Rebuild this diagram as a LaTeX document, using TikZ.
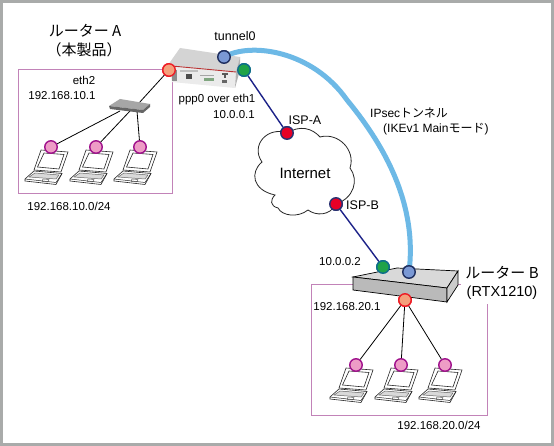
\documentclass[tikz,border=0pt]{standalone}
\usepackage{fontspec}
\setmainfont{Liberation Sans}
\newfontfamily\cjk{Noto Sans CJK JP}
\definecolor{FrameGray}{HTML}{A9ABAA}
\definecolor{NetPink}{HTML}{C283B8}
\definecolor{TunnelBlue}{HTML}{6DB9E6}
\definecolor{WanNavy}{HTML}{1C2288}
\definecolor{LanRed}{HTML}{EE1C25}
\definecolor{LanFill}{HTML}{F4A07C}
\definecolor{PcEdge}{HTML}{A0128C}
\definecolor{PcFill}{HTML}{EE9CC6}
\definecolor{TunEdge}{HTML}{1F2F5F}
\definecolor{TunFill}{HTML}{7A98D4}
\definecolor{WanEdge}{HTML}{0E6E8A}
\definecolor{WanFill}{HTML}{1FA348}
\definecolor{IspEdge}{HTML}{2A3272}
\definecolor{IspFill}{HTML}{E60026}
\usetikzlibrary{arrows.meta, positioning}

\begin{document}
\begin{tikzpicture}[
        x=1pt, y=-1pt,
        port/.style={circle, draw, line width=1.4pt, minimum size=12.5pt, inner sep=0pt},
        lanport/.style={port, draw=LanRed, fill=LanFill},
        pcport/.style={port, draw=PcEdge, fill=PcFill},
        tunport/.style={port, draw=TunEdge, fill=TunFill},
        wanport/.style={port, draw=WanEdge, fill=WanFill},
        ispport/.style={port, draw=IspEdge, fill=IspFill},
        lbl/.style={font=\fontsize{11.5}{13}\selectfont, inner sep=0pt},
        widelbl/.style={font=\fontsize{12.5}{14}\selectfont, inner sep=0pt},
        biglbl/.style={font=\fontsize{15}{17}\selectfont\cjk, inner sep=0pt},
        netbox/.style={draw=NetPink, line width=1pt},
        lanline/.style={draw=black, line width=0.8pt},
        wanline/.style={draw=WanNavy, line width=1.4pt},
        laptop/.pic={
          \draw[black!85, fill=white, line width=0.6pt] (-10,3) -- (17,5) -- (10,25) -- (-17,23) -- cycle;
          \draw[black!85, line width=0.6pt] (-7,6) -- (13,7.5) -- (8,22) -- (-13.5,20) -- cycle;
          \draw[black!85, fill=white, line width=0.6pt] (-17,24) -- (11,26.5) -- (5,37.5) -- (-26,34) -- (-26,32) -- cycle;
          \draw[black!60, fill=black!15, line width=0.5pt] (-16,26) -- (8,28) -- (5,32) -- (-22,30) -- cycle;
          \draw[black!85, line width=0.5pt] (-26,32) -- (5,35.5) -- (11,26.5);
          \draw[black!70, line width=0.4pt] (-8,32) -- (-2,32.5) -- (-3,35) -- (-9,34.5) -- cycle;
        }
      ]
        \useasboundingbox (0,0) rectangle (554,446);
        % Frame
        \fill[white] (0,0) rectangle (554,446);
        \draw[FrameGray, line width=2.6pt] (1.3,1.3) rectangle (552.2,444.2);
        % LAN boxes
        \draw[netbox] (18,70) rectangle (172,194);
        \draw[netbox] (353,285) -- (311,285) -- (311,415) -- (487,415) -- (487,304);
        \draw[netbox] (457,285) -- (461,285);
        % Ports
        \node[lanport] (ethA) at (169,70) {};
        \node[tunport] (tunA) at (224,57) {};
        \node[wanport] (wanA) at (244,70) {};
        \node[ispport] (ispA) at (287,133) {};
        \node[ispport] (ispB) at (336,204) {};
        \node[wanport] (wanB) at (383,267) {};
        \node[tunport] (tunB) at (409,272) {};
        \node[lanport] (ethB) at (405,300) {};
        % Laptops
        \foreach \x in {51,96,140}
          \pic at (\x,147) {laptop};
        \foreach \x in {356,401,445}
          \pic at (\x,365) {laptop};
        \foreach \i/\x in {1/51, 2/96, 3/140}{
          \node[pcport] (pcA\i) at (\x,147) {};
        }
        \foreach \i/\x in {1/356, 2/401, 3/445}{
          \node[pcport] (pcB\i) at (\x,365) {};
        }
        % Switch points
        \coordinate (swTop) at (139,103);
        \coordinate (sw1) at (120,111);
        \coordinate (sw2) at (130,111);
        \coordinate (sw3) at (137,111);
        % LAN lines
        \draw[lanline] (ethA) -- (swTop);
        \foreach \i in {1,2,3}
          \draw[lanline] (pcA\i) -- (sw\i);
        \foreach \i in {1,2,3}
          \draw[lanline] (ethB) -- (pcB\i);
        % Internet cloud
        \draw[black!85, fill=white, line width=0.8pt] (287,133)
          .. controls (300,125) and (312,128) .. (320,137)
          .. controls (338,132) and (356,150) .. (350,168)
          .. controls (359,180) and (354,198) .. (336,204)
          .. controls (330,216) and (316,216) .. (308,210)
          .. controls (298,218) and (282,216) .. (278,208)
          .. controls (270,206) and (270,200) .. (275,195)
          .. controls (252,190) and (250,172) .. (262,162)
          .. controls (250,145) and (268,126) .. (287,133);
        % WAN lines
        \draw[wanline] (wanA) -- (ispA);
        \draw[wanline] (ispB) -- (wanB);
        % Router A
        \fill[black!17] (180,48) -- (240,57) -- (236,73) -- (168,65) -- cycle;
        \fill[black!8] (168,65) -- (236,72) -- (235,88) -- (172,82) -- cycle;
        \fill[black!30] (236,72) -- (240,57) -- (240,70) -- (235,88) -- cycle;
        \draw[red!65!black!80, line width=0.9pt] (172,66) -- (236,72);
        \fill[black!45] (172,70) rectangle (177,81);
        \fill[black!70] (186,74) rectangle (192,79);
        \fill[black!25] (180,70) rectangle (198,72);
        \fill[black!35] (200,75) rectangle (214,76);
        \fill[green!30!black!50] (204,78) rectangle (214,81);
        \fill[black!65] (222,73) rectangle (228,75);
        \fill[black!65] (224.3,75) rectangle (225.7,78);
        \fill[black!60] (222,80) rectangle (227,83);
        % Switch
        \fill[black!35] (109,106) -- (120,99) -- (150,104) -- (143,110) -- cycle;
        \fill[black!60] (109,106) -- (143,110) -- (150,104) -- (150,107) -- (143,113) -- (110,109) -- cycle;
        % Router B
        \draw[black, fill=black!15, line width=0.7pt] (353,277) -- (397,268) -- (458,271) -- (447,288) -- cycle;
        \draw[black, fill=black!27, line width=0.7pt] (353,277) -- (447,288) -- (447,302) -- (353,290) -- cycle;
        \draw[black, fill=black!20, line width=0.7pt] (447,288) -- (458,271) -- (458,285) -- (447,302) -- cycle;
        % Tunnel
        \draw[TunnelBlue, line width=5pt] (tunA.center) .. controls (250,42) and (312,50) .. (347,100)
          .. controls (380,140) and (418,200) .. (tunB.center);
        % Ports on top
        \foreach \p/\st in {ethA/lanport, tunA/tunport, wanA/wanport, ispA/ispport, ispB/ispport, wanB/wanport, tunB/tunport, ethB/lanport}
          \node[\st] at (\p) {};
        % Labels
        \node[biglbl] (nameA) at (85,31) {ルーター A};
        \node[biglbl] (noteA) at (84,50) {（本製品）};
        \node[biglbl] (nameB) at (502,273) {ルーター B};
        \node[lbl, font=\fontsize{14.5}{16}\selectfont] (noteB) at (502,293) {(RTX1210)};
        \node[lbl] (ethLbl) at (84,80) {eth2};
        \node[lbl] (ipA) at (62,96) {192.168.10.1};
        \node[lbl] (netA) at (69,206) {192.168.10.0/24};
        \node[widelbl] (tunLbl) at (235,36) {tunnel0};
        \node[lbl] (pppLbl) at (217,100) {ppp0 over eth1};
        \node[lbl] (wanIpA) at (234,115) {10.0.0.1};
        \node[widelbl] (ispALbl) at (305,120) {ISP-A};
        \node[lbl, font=\fontsize{15}{17}\selectfont] (cloudLbl) at (305,173) {Internet};
        \node[widelbl, anchor=west] (ispBLbl) at (346,205) {ISP-B};
        \node[lbl] (wanIpB) at (340,262) {10.0.0.2};
        \node[lbl] (ipB) at (347,307) {192.168.20.1};
        \node[lbl] (netB) at (439,425) {192.168.20.0/24};
        \node[lbl, font=\fontsize{12}{14}\selectfont, anchor=west] (secLbl) at (370,113) {IPsec{\cjk トンネル}};
        \node[lbl, font=\fontsize{12}{14}\selectfont, anchor=west] (ikeLbl) at (383,129) {(IKEv1 Main{\cjk モード})};
      \end{tikzpicture}
\end{document}
